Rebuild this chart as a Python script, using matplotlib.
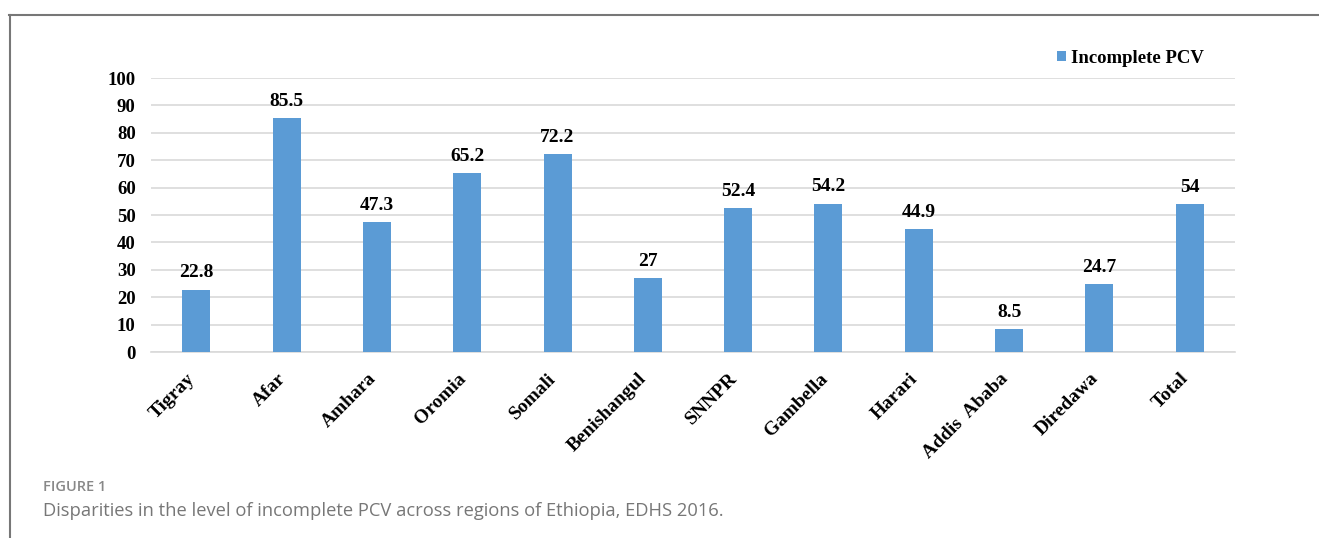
import matplotlib.pyplot as plt
from matplotlib.lines import Line2D
from matplotlib.transforms import ScaledTranslation

# Data
regions = ['Tigray', 'Afar', 'Amhara', 'Oromia', 'Somali', 'Benishangul', 'SNNPR',
           'Gambella', 'Harari', 'Addis  Ababa', 'Diredawa', 'Total']
incomplete_pcv = [22.8, 85.5, 47.3, 65.2, 72.2, 27, 52.4, 54.2, 44.9, 8.5, 24.7, 54]
value_labels = ['22.8', '85.5', '47.3', '65.2', '72.2', '27', '52.4', '54.2', '44.9', '8.5', '24.7', '54']
y_ticks = [0, 10, 20, 30, 40, 50, 60, 70, 80, 90, 100]

serif = ['Liberation Serif', 'DejaVu Serif']
bar_color = '#5B9BD5'
grid_color = '#D9D9D9'

fig = plt.figure(figsize=(13.19, 5.38), dpi=100)
ax = fig.add_axes([0.1145, 0.3457, 0.8218, 0.5093])

x = list(range(len(regions)))
ax.bar(x, incomplete_pcv, width=0.31, color=bar_color, label='Incomplete PCV', zorder=3)

# Labels above bars
for xi, v, lab in zip(x, incomplete_pcv, value_labels):
    ax.text(xi, v + 3, lab, ha='center', va='bottom', fontsize=14, fontweight='bold',
            family=serif, zorder=4)

ax.set_xlim(-0.5, len(regions) - 0.5)
ax.set_ylim(0, 100)
ax.set_yticks(y_ticks)
ax.set_yticklabels([str(t) for t in y_ticks], fontsize=13.5, fontweight='bold', family=serif)
ax.set_xticks(x)
ax.set_xticklabels(regions, rotation=45, ha='right', rotation_mode='anchor',
                   fontsize=14, fontweight='bold', family=serif)
ax.tick_params(axis='both', length=0)
ax.tick_params(axis='y', pad=11)
ax.tick_params(axis='x', pad=10)

# shift rotated labels a bit left and down
shift = ScaledTranslation(-7 / 72, -3 / 72, fig.dpi_scale_trans)
for lbl in ax.get_xticklabels():
    lbl.set_transform(lbl.get_transform() + shift)

ax.grid(axis='y', color=grid_color, linewidth=1.2, zorder=0)
for s in ['top', 'right', 'left']:
    ax.spines[s].set_visible(False)
ax.spines['bottom'].set_color(grid_color)
ax.spines['bottom'].set_linewidth(1.2)

ax.legend(loc='upper right', bbox_to_anchor=(0.987, 1.165), frameon=False,
          handlelength=0.45, handleheight=0.45, handletextpad=0.3,
          prop={'family': serif, 'weight': 'bold', 'size': 13.5})

# Outer frame (top and left lines)
fig.add_artist(Line2D([9 / 1319, 1], [1 - 15 / 538, 1 - 15 / 538], color='#777777', linewidth=1.5))
fig.add_artist(Line2D([9.5 / 1319, 9.5 / 1319], [0, 1 - 15 / 538], color='#777777', linewidth=1.5))

# Caption
fig.text(43 / 1319, 1 - 491 / 538, 'FIGURE 1', fontsize=10.5, fontweight='semibold',
         color='#888888', family=['Open Sans', 'DejaVu Sans'], va='baseline')
fig.text(43 / 1319, 1 - 516 / 538,
         'Disparities in the level of incomplete PCV across regions of Ethiopia, EDHS 2016.',
         fontsize=13.25, color='#777777', family=['Open Sans', 'DejaVu Sans'], va='baseline')

fig.savefig('out.png', dpi=100)
